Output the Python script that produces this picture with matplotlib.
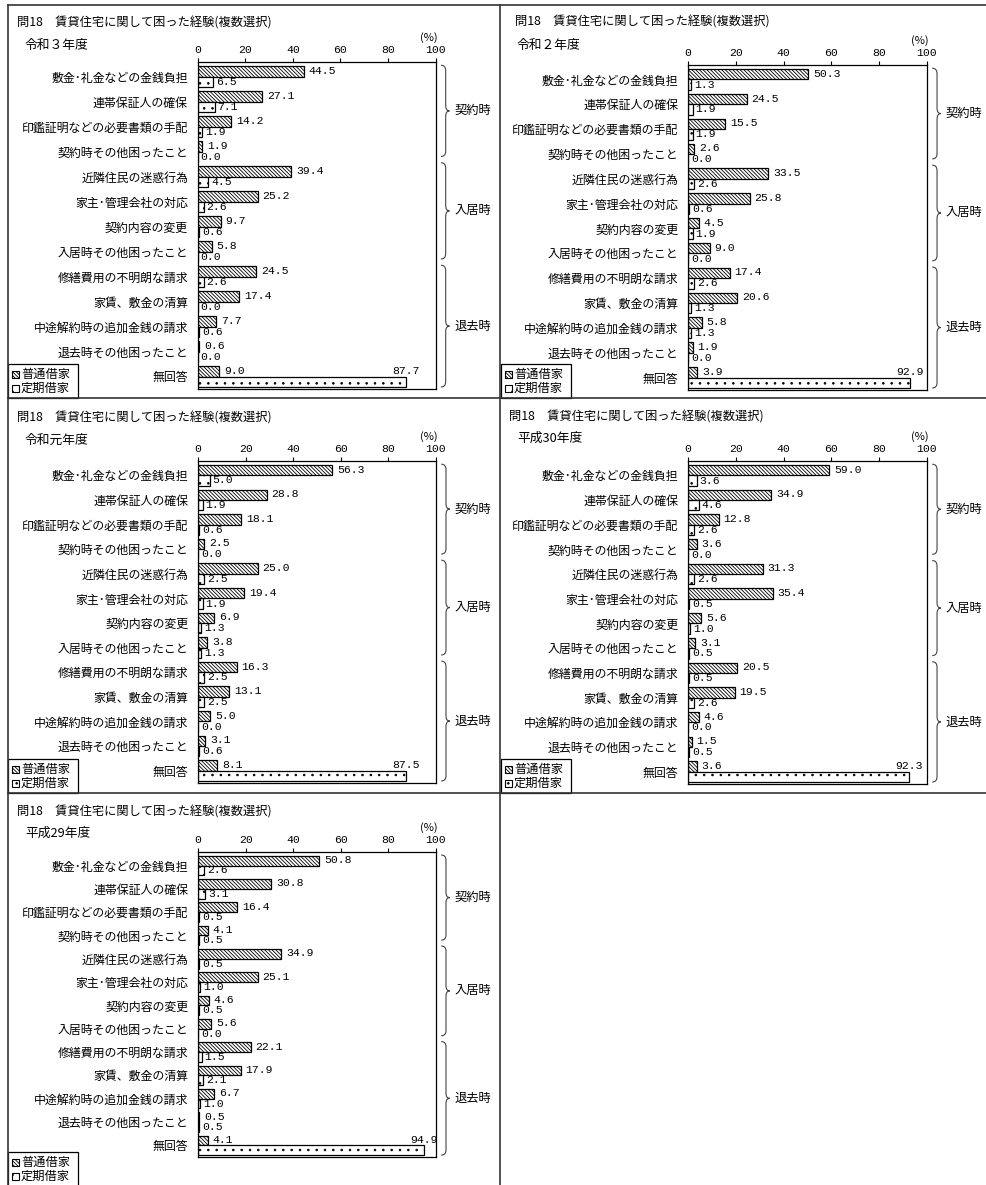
import numpy as np
import matplotlib
matplotlib.use('Agg')
import matplotlib.pyplot as plt
from matplotlib.patches import Rectangle, PathPatch
from matplotlib.path import Path
from matplotlib.lines import Line2D

plt.rcParams['font.family'] = ['Noto Sans CJK JP', 'DejaVu Sans']
plt.rcParams['hatch.linewidth'] = 0.6
NUM_FONT = ['Liberation Mono', 'DejaVu Sans Mono']
NUM_SIZE = 8.2

# ---- data ----
categories = ['敷金･礼金などの金銭負担', '連帯保証人の確保', '印鑑証明などの必要書類の手配',
              '契約時その他困ったこと', '近隣住民の迷惑行為', '家主･管理会社の対応',
              '契約内容の変更', '入居時その他困ったこと', '修繕費用の不明朗な請求',
              '家賃、敷金の清算', '中途解約時の追加金銭の請求', '退去時その他困ったこと', '無回答']
groups = ['契約時', '入居時', '退去時']
series_names = ['普通借家', '定期借家']
title = '問18　賃貸住宅に関して困った経験(複数選択)'
years = ['令和３年度', '令和２年度', '令和元年度', '平成30年度', '平成29年度']

futsu_r3 = [44.5, 27.1, 14.2, 1.9, 39.4, 25.2, 9.7, 5.8, 24.5, 17.4, 7.7, 0.6, 9.0]
teiki_r3 = [6.5, 7.1, 1.9, 0.0, 4.5, 2.6, 0.6, 0.0, 2.6, 0.0, 0.6, 0.0, 87.7]
futsu_r2 = [50.3, 24.5, 15.5, 2.6, 33.5, 25.8, 4.5, 9.0, 17.4, 20.6, 5.8, 1.9, 3.9]
teiki_r2 = [1.3, 1.9, 1.9, 0.0, 2.6, 0.6, 1.9, 0.0, 2.6, 1.3, 1.3, 0.0, 92.9]
futsu_r1 = [56.3, 28.8, 18.1, 2.5, 25.0, 19.4, 6.9, 3.8, 16.3, 13.1, 5.0, 3.1, 8.1]
teiki_r1 = [5.0, 1.9, 0.6, 0.0, 2.5, 1.9, 1.3, 1.3, 2.5, 2.5, 0.0, 0.6, 87.5]
futsu_h30 = [59.0, 34.9, 12.8, 3.6, 31.3, 35.4, 5.6, 3.1, 20.5, 19.5, 4.6, 1.5, 3.6]
teiki_h30 = [3.6, 4.6, 2.6, 0.0, 2.6, 0.5, 1.0, 0.5, 0.5, 2.6, 0.0, 0.5, 92.3]
futsu_h29 = [50.8, 30.8, 16.4, 4.1, 34.9, 25.1, 4.6, 5.6, 22.1, 17.9, 6.7, 0.5, 4.1]
teiki_h29 = [2.6, 3.1, 0.5, 0.5, 0.5, 1.0, 0.5, 0.0, 1.5, 2.1, 1.0, 0.5, 94.9]

futsu_all = [futsu_r3, futsu_r2, futsu_r1, futsu_h30, futsu_h29]
teiki_all = [teiki_r3, teiki_r2, teiki_r1, teiki_h30, teiki_h29]

# ---- layout (pixels) ----
W, H = 987, 1185
layout = [
    dict(ax=(197.7, 62, 435.7, 389), title=(17, 23), year=(25, 45), legend=(8, 364)),
    dict(ax=(688, 65, 927, 390), title=(515, 22), year=(517, 46), legend=(501, 364)),
    dict(ax=(198, 461, 436, 783), title=(17, 418), year=(25, 440), legend=(8, 759)),
    dict(ax=(688, 461, 927, 784), title=(509, 417), year=(517, 438), legend=(501, 759)),
    dict(ax=(198, 852, 436, 1157), title=(17, 812), year=(25, 833), legend=(8, 1152)),
]
group_span = [(-0.45, 3.2), (3.45, 7.3), (7.55, 12.42)]

HATCH_A = '\\' * 9
HATCH_B = '..'


def fx(p):
    return p / W


def fy(p):
    return 1 - p / H


def brace(ax, y0, y1, label):
    x0, x1, x2 = 102.2, 104.2, 105.8
    r = 0.22
    ym = (y0 + y1) / 2
    verts = [(x0, y0), (x1, y0), (x1, y0 + r), (x1, ym - r),
             (x1, ym), (x2, ym), (x1, ym), (x1, ym + r),
             (x1, y1 - r), (x1, y1), (x0, y1)]
    codes = [Path.MOVETO, Path.CURVE3, Path.CURVE3, Path.LINETO,
             Path.CURVE3, Path.CURVE3, Path.CURVE3, Path.CURVE3,
             Path.LINETO, Path.CURVE3, Path.CURVE3]
    ax.add_patch(PathPatch(Path(verts, codes), fill=False, lw=0.8,
                           edgecolor='#444444', clip_on=False))
    ax.text(107.8, ym, label, ha='left', va='center', fontsize=8.8, clip_on=False)


fig = plt.figure(figsize=(W / 100, H / 100), dpi=100)

y = np.arange(len(categories))
for i, lay in enumerate(layout):
    x0, y0, x1, y1 = lay['ax']
    ax = fig.add_axes([fx(x0), fy(y1), fx(x1 - x0), (y1 - y0) / H])
    futsu = futsu_all[i]
    teiki = teiki_all[i]
    ax.barh(y - 0.21, futsu, height=0.42, color='white', edgecolor='black',
            hatch=HATCH_A, linewidth=0.9)
    ax.barh(y + 0.21, teiki, height=0.42, color='white', edgecolor='black',
            hatch=HATCH_B, linewidth=0.9)
    for yi, v in zip(y, futsu):
        ax.annotate(f'{v:.1f}', (v, yi - 0.23), xytext=(3.5, 0), textcoords='offset points',
                    ha='left', va='center', fontsize=NUM_SIZE, family=NUM_FONT)
    for yi, v in zip(y, teiki):
        if yi == len(categories) - 1:
            ax.annotate(f'{v:.1f}', (v, yi - 0.22), xytext=(0, 0), textcoords='offset points',
                        ha='center', va='center', fontsize=NUM_SIZE, family=NUM_FONT)
        else:
            ax.annotate(f'{v:.1f}', (v, yi + 0.21), xytext=(2, 0), textcoords='offset points',
                        ha='left', va='center', fontsize=NUM_SIZE, family=NUM_FONT)
    ax.set_xlim(0, 100)
    ax.set_ylim(12.5, -0.58)
    ax.xaxis.tick_top()
    ax.set_xticks(range(0, 101, 20))
    ax.tick_params(axis='x', direction='out', length=3, pad=2, labelsize=NUM_SIZE, width=0.8)
    for t in ax.get_xticklabels():
        t.set_family(NUM_FONT)
    ax.set_yticks(y)
    ax.set_yticklabels(categories, fontsize=8.6)
    ax.tick_params(axis='y', length=0, pad=7)
    for s in ax.spines.values():
        s.set_linewidth(0.9)
        s.set_color('black')
    for (g0, g1), g in zip(group_span, groups):
        brace(ax, g0, g1, g)

    fig.text(fx(x1 - 7), fy(y0 - 24), '(%)', ha='center', va='center', fontsize=8)
    tx, ty = lay['title']
    fig.text(fx(tx), fy(ty), title, ha='left', va='center', fontsize=8.8)
    yx, yy = lay['year']
    fig.text(fx(yx), fy(yy), years[i], ha='left', va='center', fontsize=9.2)

    # legend box
    lx, ly = lay['legend']
    fig.patches.append(Rectangle((fx(lx), fy(ly + 34)), fx(70), 34 / H, fill=False,
                                 edgecolor='black', lw=0.9, transform=fig.transFigure))
    for k, (name, hatch) in enumerate(zip(series_names, [HATCH_A, HATCH_B])):
        cy = ly + 10 + k * 14
        fig.patches.append(Rectangle((fx(lx + 4), fy(cy + 3.5)), fx(7), 7 / H,
                                     facecolor='white', edgecolor='black', lw=0.8,
                                     hatch=hatch, transform=fig.transFigure))
        fig.text(fx(lx + 13), fy(cy), name, ha='left', va='center', fontsize=8.8)

# panel frames
frame = dict(color='#333333', lw=1.2, transform=fig.transFigure)
for yy in [5, 398, 793]:
    fig.lines.append(Line2D([fx(8), fx(987)], [fy(yy), fy(yy)], **frame))
for xx in [8, 500.5]:
    fig.lines.append(Line2D([fx(xx), fx(xx)], [fy(5), fy(1185)], **frame))

fig.savefig('out.png', dpi=100)
